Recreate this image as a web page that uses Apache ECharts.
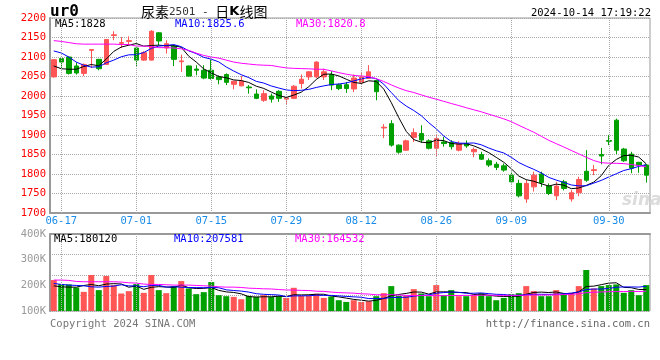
<!DOCTYPE html>
<html><head><meta charset="utf-8">
<script src="https://cdn.jsdelivr.net/npm/echarts@6/dist/echarts.min.js"></script>
<style>html,body{margin:0;padding:0;background:#fff}#c{width:660px;height:360px}</style>
</head><body><div id="c"></div>
<script>
const dates = ['06-14','06-17','06-18','06-19','06-20','06-21','06-24','06-25','06-26','06-27','06-28','07-01','07-02','07-03','07-04','07-05','07-08','07-09','07-10','07-11','07-12','07-15','07-16','07-17','07-18','07-19','07-22','07-23','07-24','07-25','07-26','07-29','07-30','07-31','08-01','08-02','08-05','08-06','08-07','08-08','08-09','08-12','08-13','08-14','08-15','08-16','08-19','08-20','08-21','08-22','08-23','08-26','08-27','08-28','08-29','08-30','09-02','09-03','09-04','09-05','09-06','09-09','09-10','09-11','09-12','09-13','09-18','09-19','09-20','09-23','09-24','09-25','09-26','09-27','09-30','10-08','10-09','10-10','10-11','10-14'];
const dateTicks = ['06-17','07-01','07-15','07-29','08-12','08-26','09-09','09-30'];

const opens = [2049,2096,2100,2077,2058,2117,2094,2081,2155,2135,
  2140,2123,2092,2092,2162,2123,2128,2088,2077,2069,
  2066,2066,2049,2055,2030,2026,2023,2005,1989,2000,
  2012,1992,1994,2032,2049,2049,2049,2055,2029,2029,
  2018,2035,2045,2040,1918,1929,1874,1861,1894,1904,
  1885,1866,1882,1881,1861,1878,1857,1850,1834,1825,
  1821,1797,1776,1736,1767,1800,1769,1744,1780,1736,
  1752,1807,1809,1850,1886,1938,1864,1851,1830,1823];
const closes = [2093,2087,2058,2059,2081,2119,2070,2145,2157,2137,
  2142,2092,2111,2166,2141,2134,2094,2090,2051,2066,
  2046,2045,2042,2035,2038,2038,2021,1994,2006,1992,
  1994,1995,2025,2043,2062,2087,2062,2028,2019,2019,
  2046,2049,2062,2011,1920,1874,1856,1885,1906,1887,
  1866,1891,1878,1870,1878,1872,1863,1838,1823,1817,
  1810,1780,1744,1776,1797,1778,1750,1769,1763,1752,
  1786,1784,1811,1846,1884,1861,1834,1815,1823,1797];
const lows = [2047,2070,2055,2055,2051,2072,2066,2080,2143,2123,
  2130,2075,2090,2091,2130,2109,2077,2062,2049,2053,
  2043,2042,2030,2028,2017,2025,2006,1992,1985,1983,
  1985,1978,1992,2019,2041,2046,2041,2015,2015,2008,
  2010,2030,2044,1989,1892,1870,1852,1859,1882,1880,
  1863,1846,1870,1863,1858,1867,1843,1836,1818,1810,
  1806,1776,1740,1726,1755,1767,1746,1733,1758,1729,
  1743,1780,1797,1825,1874,1851,1831,1802,1803,1778];
const highs = [2095,2097,2101,2086,2083,2120,2095,2146,2166,2151,
  2153,2124,2115,2169,2164,2143,2130,2106,2078,2079,
  2079,2093,2053,2058,2039,2051,2028,2017,2015,2006,
  2015,1996,2028,2055,2064,2089,2070,2064,2032,2036,
  2055,2062,2079,2042,1928,1938,1876,1888,1917,1925,
  1889,1900,1895,1887,1884,1886,1868,1857,1840,1831,
  1827,1806,1785,1785,1806,1806,1776,1780,1785,1759,
  1793,1861,1823,1867,1900,1942,1867,1857,1831,1825];

const ma5 = [2077,2070,2068.6,2068.6,2075.6,2080.8,2077.4,2094.8,2114.4,2125.6,
  2130.2,2134.6,2127.8,2129.6,2130.4,2128.8,2129.2,2125,2102,2087,
  2069.4,2059.6,2050,2046.8,2041.2,2039.6,2034.8,2025.2,2019.4,2010.2,
  2001.4,1996.2,2002.4,2009.8,2023.8,2042.4,2055.8,2056.4,2051.6,2043,
  2034.8,2032.2,2039,2037.4,2017.6,1983.2,1944.6,1909.2,1888.2,1881.6,
  1880,1887,1885.6,1878.4,1876.6,1877.8,1872.2,1864.2,1854.8,1842.6,
  1830.2,1813.6,1794.8,1785.4,1781.4,1775,1769,1774,1771.4,1762.4,
  1764,1770.8,1779.2,1795.8,1822.2,1837.2,1847.2,1848,1843.4,1826];
const ma10 = [2115.5,2110.4,2100,2087,2079,2074,2075,2085,2092,2100.6,
  2105.5,2106,2111.3,2122,2128,2129.5,2131.9,2126.4,2115.8,2108.7,
  2099.1,2094.4,2087.5,2074.4,2064.1,2054.5,2047.2,2037.6,2033.1,2025.7,
  2020.5,2015.5,2013.8,2014.6,2017,2021.9,2026,2029.4,2030.7,2033.4,
  2038.6,2044,2047.7,2044.5,2030.3,2009,1988.4,1974.1,1962.8,1949.6,
  1931.6,1915.8,1897.4,1883.3,1879.1,1878.9,1879.6,1874.9,1866.6,1859.6,
  1854,1842.9,1829.5,1820.1,1812,1802.6,1791.3,1784.4,1778.4,1771.9,
  1769.5,1769.9,1776.6,1783.6,1792.3,1800.6,1809,1813.6,1819.6,1824.1];
const ma30 = [2142,2140,2137,2134,2133,2133,2133,2133,2133,2132,
  2132,2128,2128,2127,2124,2124,2123,2121,2117,2110,
  2104,2100,2097,2092,2087,2084,2082,2080,2079,2078.3,
  2075,2072,2070.9,2070.3,2069.7,2068.6,2068.4,2064.5,2059.9,2055.9,
  2052.7,2051.3,2049.7,2044.5,2037.1,2028.5,2020.5,2013.7,2008.9,2002.9,
  1996.9,1991.8,1986.3,1980.8,1975.5,1969.9,1964.7,1959.5,1953.4,1947.5,
  1941.4,1934.2,1924.9,1916,1907.1,1896.8,1886.4,1877.8,1869.3,1860.4,
  1851.7,1842.9,1834.5,1829,1827.8,1827.4,1826.6,1824.3,1821.5,1818.5];

// volume in thousands
const volumes = [220.5,204.8,203.5,191.8,174.6,240.2,181.3,236.2,200.9,168.2,
  177.3,204.8,170.8,240.2,181.3,169.5,197,216.6,187.9,165.6,
  173.4,212.7,161.6,157.7,155,145.9,158.9,155,161.6,155,
  157.7,151,190.4,158.9,158.9,166.9,151,156.3,142,135.4,
  142,135.4,138,157.7,169.5,197,158.9,158.9,185.2,168.2,
  157.7,200.9,161.6,181.3,157.7,157.7,161.6,169.5,157.7,142,
  151,165.6,169.5,197,177.3,157.7,157.7,181.3,168.2,170.8,
  197,259.8,187.9,197,200.9,203.5,170.8,181.3,161.6,200.9];
const volMa5 = [198.2,194.2,193,193,199.4,203.2,198.4,204.8,206.6,205.2,
  192.6,197.4,184.4,192.2,194.8,193.4,191.8,201,190.6,187.6,
  188.2,191.4,180.4,174.4,172.2,166.8,156,154.6,155.4,155.4,
  157.8,156.2,163.2,162.6,163.4,165.2,165.2,158.4,155,150.2,
  145.2,142,138.4,141.6,148.6,159.6,164.4,168.6,174,173.6,
  165.8,174.2,174.8,174,172,172,164.2,165.8,161.2,158,
  156.6,157.4,157.4,165.2,172.2,173.6,172,174.2,168.4,167.2,
  175,195.4,196.8,202.6,208.6,210,192.2,190.8,183.8,183.8];
const volMa10 = [207.4,203.5,200.9,199.6,198.2,194.2,193,195.6,197,202.3,
  197.9,197.9,194.6,199.4,200,193,194.6,192.7,191.4,191.2,
  190.8,191.6,190.7,182.5,179.9,177.5,173.7,167.5,164.9,163.8,
  162.3,156.1,158.9,159,159.4,161.5,160.7,160.8,158.8,156.8,
  155.2,153.6,148.4,148.3,149.4,152.4,153.2,153.5,157.8,161.1,
  162.7,169.3,171.7,174,172.8,168.9,169.2,170.3,167.6,165,
  164.3,160.8,161.6,163.2,165.1,165.1,164.7,165.8,166.8,169.7,
  174.3,183.7,185.5,185.5,187.9,192.5,193.8,193.8,193.2,196.2];
const volMa30 = [220.5,220.5,219.2,215.2,214,214,214,214,214,212.7,
  210,208.7,204.8,203.5,203.5,202.2,200.9,200.9,200.9,199.6,
  198.2,197,194.3,193,193,191.7,189,187.9,186.5,185.8,
  183.7,181.9,181.4,180.3,179.8,177.3,176.3,173.7,171.7,170.6,
  169.4,167.1,166,163.3,162.9,163.8,162.5,160.6,160.5,160.6,
  160.1,159.7,159.7,160.4,160.5,160.9,161,161.5,161.4,161,
  160.7,161.2,160.6,161.8,162.4,162.1,162.4,163.2,164.1,165.3,
  167.1,171.3,172.9,174.2,175.3,175.5,175.9,176.6,175.9,177];

const UP = '#ff5555', DOWN = '#00a000';
const MONO = "'DejaVu Sans Mono', monospace";
const GRIDC = '#a8a8a8';

const chart = echarts.init(document.getElementById('c'), null, {renderer: 'canvas'});

const vGridLines = {
  symbol: ['none', 'none'], silent: true, animation: false,
  label: {show: false},
  lineStyle: {type: 'dotted', color: GRIDC, width: 1},
  emphasis: {disabled: true},
  data: dateTicks.map(d => ({xAxis: d}))
};

const maLine = (name, data, color, xi, yi) => ({
  name, type: 'line', data, xAxisIndex: xi, yAxisIndex: yi,
  showSymbol: false, symbol: 'none', silent: true, z: 4,
  lineStyle: {color, width: 1}, itemStyle: {color}
});

const option = {
  animation: false,
  backgroundColor: '#fff',
  grid: [
    {left: 50, right: 10, top: 18, height: 195, show: true, borderColor: '#999', borderWidth: 1},
    {left: 50, right: 10, top: 234, height: 77, show: true, borderColor: '#999', borderWidth: 1}
  ],
  xAxis: [
    {type: 'category', gridIndex: 0, data: dates, boundaryGap: true,
     axisLine: {show: true, lineStyle: {color: '#999', width: 2}},
     axisTick: {show: false},
     axisLabel: {interval: (i, v) => dateTicks.includes(v), color: '#1a8ce8',
                 fontFamily: MONO, fontSize: 10.5, margin: 3},
     splitLine: {show: false}},
    {type: 'category', gridIndex: 1, data: dates, boundaryGap: true,
     axisLine: {show: true, lineStyle: {color: '#999', width: 2}},
     axisTick: {show: false}, axisLabel: {show: false}, splitLine: {show: false}}
  ],
  yAxis: [
    {type: 'value', gridIndex: 0, min: 1700, max: 2200, interval: 50,
     axisLine: {show: true, lineStyle: {color: '#999', width: 2}},
     axisTick: {show: false},
     axisLabel: {color: '#ff0000', fontFamily: MONO, fontSize: 10.5, margin: 4, formatter: v => String(v)},
     splitLine: {show: true, lineStyle: {type: 'dotted', color: GRIDC, width: 1}}},
    {type: 'value', gridIndex: 1, min: 100, max: 400, interval: 100,
     axisLine: {show: true, lineStyle: {color: '#999', width: 2}},
     axisTick: {show: false},
     axisLabel: {color: '#999', fontFamily: MONO, fontSize: 10.5, margin: 4, formatter: v => v + 'K'},
     splitLine: {show: false}},
    {type: 'value', gridIndex: 1, min: 0, max: 3.75, interval: 1, inverse: true, position: 'right',
     axisLine: {show: false}, axisTick: {show: false}, axisLabel: {show: false},
     splitLine: {show: true, lineStyle: {type: 'dotted', color: GRIDC, width: 1}}}
  ],
  series: [
    {type: 'line', xAxisIndex: 0, yAxisIndex: 0, data: [], z: 1, silent: true, markLine: vGridLines},
    {type: 'line', xAxisIndex: 1, yAxisIndex: 1, data: [], z: 1, silent: true, markLine: vGridLines},
    {name: 'K', type: 'candlestick', xAxisIndex: 0, yAxisIndex: 0, z: 3, silent: true,
     barWidth: 5,
     data: dates.map((d, i) => [opens[i], closes[i], lows[i], highs[i]]),
     itemStyle: {color: UP, color0: DOWN, borderColor: UP, borderColor0: DOWN, borderWidth: 1}},
    maLine('MA5', ma5, '#000000', 0, 0),
    maLine('MA10', ma10, '#0000ff', 0, 0),
    maLine('MA30', ma30, '#ff00ff', 0, 0),
    {name: 'VOL', type: 'bar', xAxisIndex: 1, yAxisIndex: 1, z: 3, silent: true, barWidth: 6,
     data: volumes.map((v, i) => ({value: v, itemStyle: {color: closes[i] >= opens[i] ? UP : DOWN}}))},
    maLine('VMA5', volMa5, '#000000', 1, 1),
    maLine('VMA10', volMa10, '#0000ff', 1, 1),
    maLine('VMA30', volMa30, '#ff00ff', 1, 1)
  ],
  graphic: [
    {type: 'text', x: 50, y: 12, z: 10, style: {text: 'ur0', font: "bold 16px 'DejaVu Sans Mono'", fill: '#000', textVerticalAlign: 'middle'}},
    {type: 'text', x: 141, y: 12, z: 10, style: {
      text: '{c|尿素}{n|2501 - }{c|日}{k|K}{c|线图}', textVerticalAlign: 'middle',
      rich: {
        c: {font: "14px 'Noto Sans CJK SC'", fill: '#000'},
        n: {font: "11px 'DejaVu Sans Mono'", fill: '#333'},
        k: {font: "bold 13px 'DejaVu Sans'", fill: '#000'}
      }}},
    {type: 'text', x: 651, y: 13, z: 10, style: {text: '2024-10-14 17:19:22', font: "10.5px 'DejaVu Sans Mono'", fill: '#000', textAlign: 'right', textVerticalAlign: 'middle'}},
    {type: 'text', x: 55, y: 24, z: 10, style: {text: 'MA5:1828', font: "10.5px 'DejaVu Sans Mono'", fill: '#000', textVerticalAlign: 'middle'}},
    {type: 'text', x: 175, y: 24, z: 10, style: {text: 'MA10:1825.6', font: "10.5px 'DejaVu Sans Mono'", fill: '#0000ff', textVerticalAlign: 'middle'}},
    {type: 'text', x: 296, y: 24, z: 10, style: {text: 'MA30:1820.8', font: "10.5px 'DejaVu Sans Mono'", fill: '#ff00ff', textVerticalAlign: 'middle'}},
    {type: 'text', x: 54, y: 239, z: 10, style: {text: 'MA5:180120', font: "10.5px 'DejaVu Sans Mono'", fill: '#000', textVerticalAlign: 'middle'}},
    {type: 'text', x: 174, y: 239, z: 10, style: {text: 'MA10:207581', font: "10.5px 'DejaVu Sans Mono'", fill: '#0000ff', textVerticalAlign: 'middle'}},
    {type: 'text', x: 295, y: 239, z: 10, style: {text: 'MA30:164532', font: "10.5px 'DejaVu Sans Mono'", fill: '#ff00ff', textVerticalAlign: 'middle'}},
    {type: 'text', x: 50, y: 324, z: 10, style: {text: 'Copyright 2024 SINA.COM', font: "10.5px 'DejaVu Sans Mono'", fill: '#777', textVerticalAlign: 'middle'}},
    {type: 'text', x: 650, y: 324, z: 10, style: {text: 'http://finance.sina.com.cn', font: "10.5px 'DejaVu Sans Mono'", fill: '#666', textAlign: 'right', textVerticalAlign: 'middle'}},
    {type: 'text', x: 622, y: 201, z: 0, style: {text: 'sina', font: "italic bold 17px 'DejaVu Sans'", fill: '#dcdcdc', textVerticalAlign: 'middle'}}
  ]
};
chart.setOption(option);
</script>
</body></html>
